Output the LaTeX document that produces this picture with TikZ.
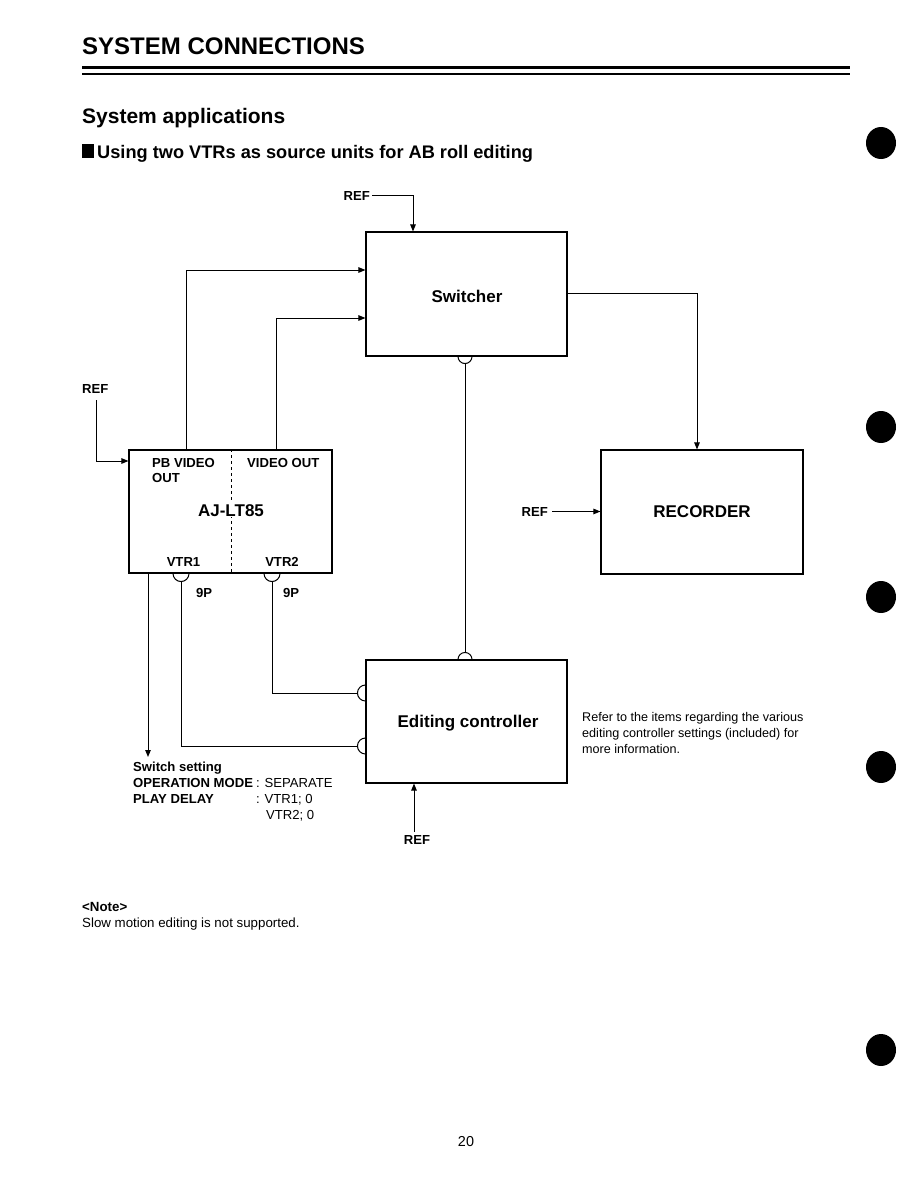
\documentclass[tikz,border=0pt]{standalone}
\usepackage{fontspec}
\setmainfont{Liberation Sans}
\usetikzlibrary{arrows.meta,calc}
\begin{document}
\begin{tikzpicture}[x=1pt,y=-1pt,
  box/.style={draw,line width=1.1pt,inner sep=0pt},
  big/.style={inner sep=0pt,anchor=base,font=\fontsize{17}{20}\selectfont\bfseries},
  lbl/.style={font=\fontsize{13.1}{15}\selectfont\bfseries,inner sep=0pt},
  reg/.style={font=\fontsize{13.1}{15}\selectfont,inner sep=0pt},
  txt/.style={font=\fontsize{12.6}{16}\selectfont,inner sep=0pt,align=left},
  wire/.style={line width=1pt},
  arr/.style={wire,-{Triangle[length=7pt,width=5.5pt]}}]
\useasboundingbox (0,0) rectangle (918,1188);
% header
\node[anchor=base west,inner sep=0pt,font=\fontsize{24}{28}\selectfont\bfseries] (title) at (82,55) {SYSTEM CONNECTIONS};
\draw[line width=3pt] (82,68) -- (850,68);
\draw[line width=1.2pt] (82,74) -- (850,74);
\node[anchor=base west,inner sep=0pt,font=\fontsize{21}{25}\selectfont\bfseries] (sub) at (82,124) {System applications};
\fill (82,144) rectangle (94,158);
\node[anchor=base west,inner sep=0pt,font=\fontsize{18.2}{22}\selectfont\bfseries] (head) at (97,158) {Using two VTRs as source units for AB roll editing};
% dots
\foreach \yy in {143,427,597,767,1050} \fill (881,\yy) ellipse [x radius=15pt, y radius=16pt];
% boxes
\node[box,minimum width=201pt,minimum height=124pt] (sw) at (466.5,294) {};
\node[box,minimum width=203pt,minimum height=123pt] (aj) at (230.5,511.5) {};
\node[box,minimum width=202pt,minimum height=124pt] (rec) at (702,512) {};
\node[box,minimum width=201pt,minimum height=123pt] (ed) at (466.5,721.5) {};
\node[big] (swl) at (467,302) {Switcher};
\node[big] (recl) at (702,517) {RECORDER};
\node[big] (edl) at (468,727) {Editing controller};
% AJ-LT85 contents
\draw[wire,dash pattern=on 3pt off 3pt] (aj.north -| 231,0) -- (aj.south -| 231,0);
\node[lbl,anchor=base west] (pbv) at (152,467) {PB VIDEO};
\node[lbl,anchor=base west] (pbo) at (152,482) {OUT};
\node[lbl,anchor=base west] (vo) at (247,467) {VIDEO OUT};
\node[big,fill=white,inner sep=1pt] (ajl) at (231,516) {AJ-LT85};
\node[lbl,anchor=base] (v1) at (183.5,566) {VTR1};
\node[lbl,anchor=base] (v2) at (282,566) {VTR2};
\node[lbl,anchor=base west] (p1) at (196,597) {9P};
\node[lbl,anchor=base west] (p2) at (283,597) {9P};
% REF labels
\node[lbl,anchor=base east] (reft) at (370,200) {REF};
\node[lbl,anchor=base west] (refl) at (82,393) {REF};
\node[lbl,anchor=base east] (refm) at (548,516) {REF};
\node[lbl,anchor=base] (refb) at (417,844) {REF};
% connectors
\draw[arr] ($(reft.east)+(2,0)$) -| (sw.north -| 413,0);
\draw[arr] (aj.north -| 186,0) |- (sw.west |- 0,270);
\draw[arr] (aj.north -| 276,0) |- (sw.west |- 0,318);
\draw[arr] (sw.east |- 0,293) -| (rec.north -| 697,0);
\draw[arr] (96,400) |- (aj.west |- 0,461);
\draw[arr] ($(refm.east)+(4,0)$) -- (rec.west |- refm.east);
\draw[arr] (414,832) -- (ed.south -| 414,0);
% switcher to editing controller
\draw[wire] (sw.south -| 458,0) arc (180:0:7);
\draw[wire] (ed.north -| 458,0) arc (180:360:7);
\draw[wire] ($(sw.south -| 465,0)+(0,7)$) -- ($(ed.north -| 465,0)+(0,-7)$);
% VTR1 / VTR2 to editing controller
\draw[wire] (aj.south -| 173,0) arc (180:0:8);
\draw[wire] (aj.south -| 264,0) arc (180:0:8);
\draw[wire] (ed.west |- 0,738) arc (270:90:8);
\draw[wire] (ed.west |- 0,685) arc (270:90:8);
\draw[wire] ($(aj.south -| 181,0)+(0,8)$) |- ($(ed.west |- 0,746)+(-8,0)$);
\draw[wire] ($(aj.south -| 272,0)+(0,8)$) |- ($(ed.west |- 0,693)+(-8,0)$);
% switch setting
\coordinate (sset) at (148,757);
\draw[arr] (aj.south -| 148,0) -- (sset);
\node[lbl,anchor=base west] (ss) at (133,771) {Switch setting};
\node[lbl,anchor=base west] (om) at (133,787) {OPERATION MODE};
\node[reg,anchor=base west] (omv) at (256,787) {: SEPARATE};
\node[lbl,anchor=base west] (pd) at (133,803) {PLAY DELAY};
\node[reg,anchor=base west] (pdv) at (256,803) {: VTR1; 0};
\node[reg,anchor=base west] (pdv2) at (266,819) {VTR2; 0};
% right note
\node[txt,anchor=base west] (refer) at (582,753) {Refer to the items regarding the various\\editing controller settings (included) for\\more information.};
% bottom note
\node[lbl,anchor=base west,font=\fontsize{13.3}{15}\selectfont\bfseries] (note) at (82,911) {<Note>};
\node[reg,anchor=base west,font=\fontsize{13.3}{15}\selectfont] (slow) at (82,927) {Slow motion editing is not supported.};
\node[anchor=base,inner sep=0pt,font=\fontsize{14.4}{17}\selectfont] (pg) at (466,1146) {20};
\end{tikzpicture}
\end{document}
